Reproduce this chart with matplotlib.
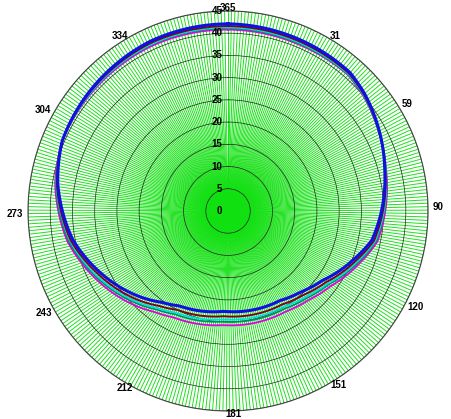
import numpy as np
import matplotlib
matplotlib.use("Agg")
from matplotlib import pyplot as plt

days = [0, 23, 42, 50, 61, 76, 103, 113, 128, 140, 152, 185, 210, 219, 229, 248, 263, 283, 297, 316, 340, 365]

r_blue = [42.1, 41.8, 41.5, 40.5, 38.8, 36.5, 33.0, 30.2, 26.4, 24.5, 23.3, 22.6, 24.0, 25.4, 27.7, 32.0, 35.5, 38.8, 40.5, 41.2, 42.0, 42.1]
r_maroon = [41.6, 41.4, 41.2, 40.3, 38.7, 36.6, 33.5, 30.8, 27.2, 25.4, 24.3, 23.7, 25.0, 26.4, 28.6, 32.6, 36.0, 39.0, 40.5, 41.0, 41.6, 41.6]
r_cyan = [41.3, 41.1, 41.0, 40.2, 38.7, 36.7, 33.8, 31.2, 27.7, 26.0, 24.9, 24.4, 25.7, 27.0, 29.1, 33.1, 36.2, 39.1, 40.5, 40.8, 41.3, 41.3]
r_teal = [41.1, 40.9, 40.9, 40.1, 38.6, 36.7, 34.0, 31.5, 28.0, 26.4, 25.4, 24.9, 26.1, 27.4, 29.5, 33.4, 36.5, 39.2, 40.5, 40.8, 41.2, 41.1]
r_magenta = [40.8, 40.7, 40.8, 40.0, 38.6, 36.8, 34.3, 31.9, 28.6, 27.0, 26.1, 25.7, 26.9, 28.1, 30.1, 33.8, 36.8, 39.4, 40.5, 40.6, 40.9, 40.8]

month_days = [0, 31, 59, 90, 120, 151, 181, 212, 243, 273, 304, 334]
month_labels = ["365", "31", "59", "90", "120", "151", "181", "212", "243", "273", "304", "334"]
r_ticks = [0, 5, 10, 15, 20, 25, 30, 35, 40, 45]

fig = plt.figure(figsize=(4.52, 4.19), dpi=100)
ax = fig.add_axes([0.062, 0.019, 0.885, 0.955], projection="polar")
ax.set_theta_zero_location("N")
ax.set_theta_direction(-1)
ax.set_ylim(0, 45)

def to_theta(d):
    return np.asarray(d) * 2 * np.pi / 365.0

# one green spoke per day
ax.vlines(to_theta(np.arange(365)), 0, 45, colors="#10e010", lw=0.65, zorder=1)

# rings
ax.set_rgrids(r_ticks[1:], labels=[])
ax.yaxis.grid(True, color="#222222", lw=0.5, zorder=2)
ax.set_thetagrids(np.array(month_days) * 360 / 365.0, [""] * len(month_days))
ax.xaxis.grid(False)
ax.spines["polar"].set_color("#444444")
ax.spines["polar"].set_linewidth(0.8)

for v in r_ticks:
    ax.annotate(str(v), xy=(0, v), xytext=(-4, 0), textcoords="offset points",
                ha="right", va="center", fontsize=7, fontweight="bold",
                family="Liberation Sans", zorder=6)

for d, lab in zip(month_days, month_labels):
    t = float(to_theta(d))
    half_w = 2.75 * len(lab)
    ax.annotate(lab, xy=(t, 45), xytext=(np.sin(t) * (half_w + 5), np.cos(t) * 3),
                textcoords="offset pixels", ha="center", va="center",
                fontsize=7, fontweight="bold", family="Liberation Sans",
                annotation_clip=False)

th = to_theta(days)
lines = []
lines += ax.plot(th, r_magenta, color="#e000e0", lw=1.3, zorder=3)
lines += ax.plot(th, r_teal, color="#008a6a", lw=1.2, zorder=3)
lines += ax.plot(th, r_cyan, color="#00e0e0", lw=1.2, zorder=3)
lines += ax.plot(th, r_maroon, color="#800020", lw=1.4, zorder=3)
lines += ax.plot(th, r_blue, color="#1010e0", lw=2.2, zorder=4)
for ln in lines:
    # let the polar transform bend each segment
    ln.get_path()._interpolation_steps = 60

fig.savefig("out.png", dpi=100, facecolor="white")
